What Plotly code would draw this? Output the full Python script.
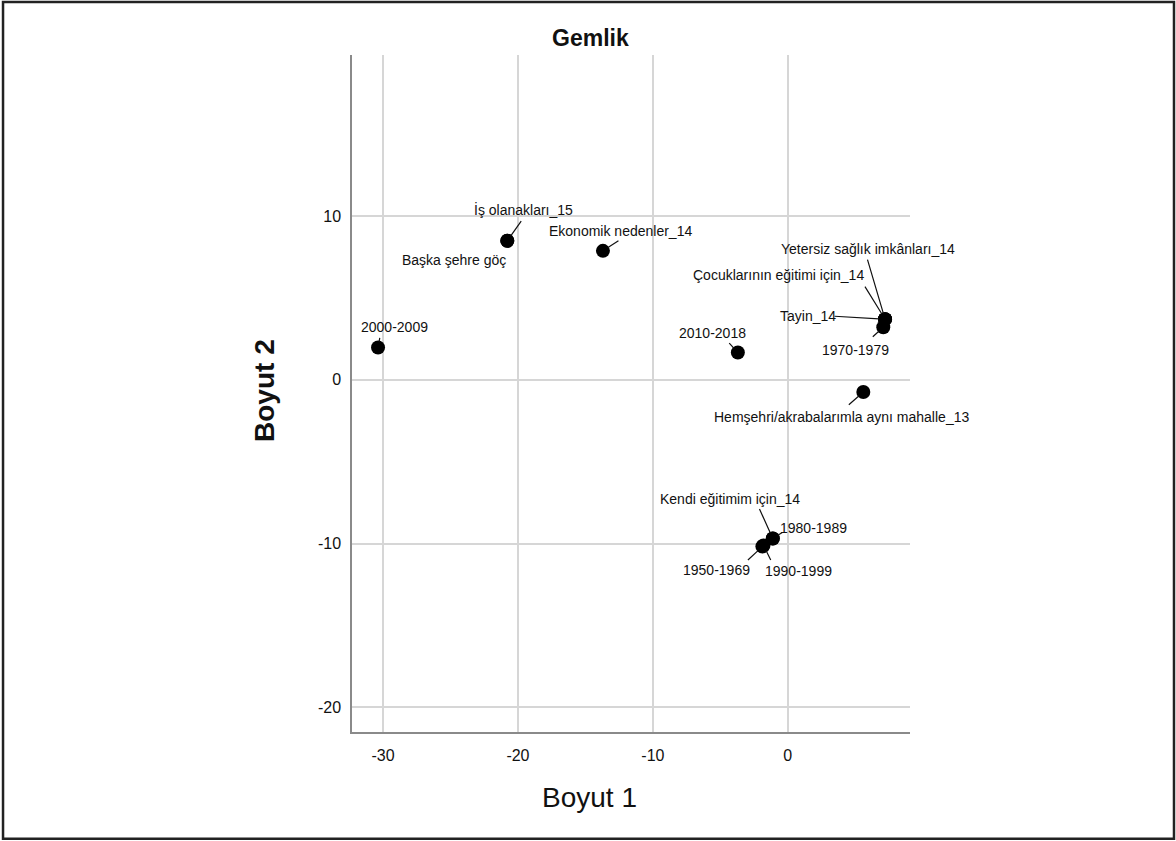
import plotly.graph_objects as go

labels = ["2000-2009", "İş olanakları_15", "Başka şehre göç", "Ekonomik nedenler_14",
          "2010-2018", "Yetersiz sağlık imkânları_14", "Çocuklarının eğitimi için_14",
          "Tayin_14", "1970-1979", "Hemşehri/akrabalarımla aynı mahalle_13",
          "Kendi eğitimim için_14", "1980-1989", "1950-1969", "1990-1999"]
boyut1 = [-30.37, -20.79, -20.79, -13.70, -3.70, 7.21, 7.21, 7.21, 7.08, 5.60,
          -1.11, -1.11, -1.88, -1.80]
boyut2 = [1.97, 8.49, 8.49, 7.87, 1.66, 3.70, 3.70, 3.70, 3.21, -0.75,
          -9.69, -9.69, -10.18, -10.12]

x_ticks = [-30, -20, -10, 0]
y_ticks = [-20, -10, 0, 10]

# label layout in pixels relative to the point (+y downward):
# (text dx, text dy, leader tail dx, leader tail dy) ; tail None -> no leader line
label_layout = {
    "2000-2009": (16, -20, 2, -11),
    "İş olanakları_15": (16, -31, 15, -21),
    "Başka şehre göç": (-53, 19, None, None),
    "Ekonomik nedenler_14": (18, -20, 17, -11),
    "2010-2018": (-25, -20, -10, -11),
    "Yetersiz sağlık imkânları_14": (-17, -70, -18, -61),
    "Çocuklarının eğitimi için_14": (-107, -44, -21, -34),
    "Tayin_14": (-77, -3, -52, -3),
    "1970-1979": (-28, 23, -12, 11),
    "Hemşehri/akrabalarımla aynı mahalle_13": (-22, 25, -16, 14),
    "Kendi eğitimim için_14": (-43, -39, -14, -31),
    "1980-1989": (41, -10, 11, -7),
    "1950-1969": (-46, 24, -16, 15),
    "1990-1999": (35, 26, 8, 16),
}

FONT = "Liberation Sans, Arial, sans-serif"

fig = go.Figure()
fig.add_trace(go.Scatter(
    x=boyut1, y=boyut2, mode="markers", text=labels,
    marker=dict(color="black", size=14, line=dict(width=0)),
    hoverinfo="text", showlegend=False,
))

annotations = []
for name, xv, yv in zip(labels, boyut1, boyut2):
    dx, dy, lx, ly = label_layout[name]
    if lx is not None:
        annotations.append(dict(
            x=xv, y=yv, xref="x", yref="y", text="", showarrow=True,
            ax=lx, ay=ly, axref="pixel", ayref="pixel",
            arrowhead=0, arrowwidth=1.2, arrowcolor="#111", standoff=6,
        ))
    annotations.append(dict(
        x=xv, y=yv, xref="x", yref="y", text=name, showarrow=False,
        xanchor="center", yanchor="middle",
        xshift=dx, yshift=-dy,
        font=dict(family=FONT, size=14, color="#111"),
    ))

# titles
annotations.append(dict(text="<b>Gemlik</b>", x=0.428, y=1.025, xref="paper", yref="paper",
                        xanchor="center", yanchor="middle", showarrow=False,
                        font=dict(family=FONT, size=23, color="#111")))
annotations.append(dict(text="Boyut 1", x=0.425, y=-0.097, xref="paper", yref="paper",
                        xanchor="center", yanchor="middle", showarrow=False,
                        font=dict(family=FONT, size=28, color="#111")))
annotations.append(dict(text="<b>Boyut 2</b>", x=-0.158, y=0.505, xref="paper", yref="paper",
                        xanchor="center", yanchor="middle", showarrow=False, textangle=-90,
                        font=dict(family=FONT, size=28, color="#111")))

fig.update_layout(
    width=1176, height=841,
    margin=dict(l=352, r=266, t=55, b=109),
    paper_bgcolor="white", plot_bgcolor="white",
    annotations=annotations,
    shapes=[dict(type="rect", xref="paper", yref="paper",
                 x0=-0.6254, x1=1.4731, y0=-0.1575, y1=1.0783,
                 line=dict(color="#222", width=2.5), layer="above")],
    font=dict(family=FONT, color="#111"),
)
fig.update_xaxes(
    range=[-32.3, 9.06], tickvals=x_ticks, ticktext=[str(v) for v in x_ticks],
    showgrid=True, gridcolor="#d6d6d6", gridwidth=2, zeroline=False,
    showline=True, linecolor="#8a8a8a", linewidth=1.5, ticks="",
    tickfont=dict(family=FONT, size=16, color="#111"), ticklabelstandoff=8,
)
fig.update_yaxes(
    range=[-21.51, 19.83], tickvals=y_ticks, ticktext=[str(v) for v in y_ticks],
    showgrid=True, gridcolor="#d6d6d6", gridwidth=2, zeroline=False,
    showline=True, linecolor="#8a8a8a", linewidth=1.5, ticks="",
    tickfont=dict(family=FONT, size=16, color="#111"), ticklabelstandoff=6,
)

fig.write_html("out.html", config={"displayModeBar": False},
               post_script="document.body.style.margin='0';document.body.style.overflow='hidden';")
